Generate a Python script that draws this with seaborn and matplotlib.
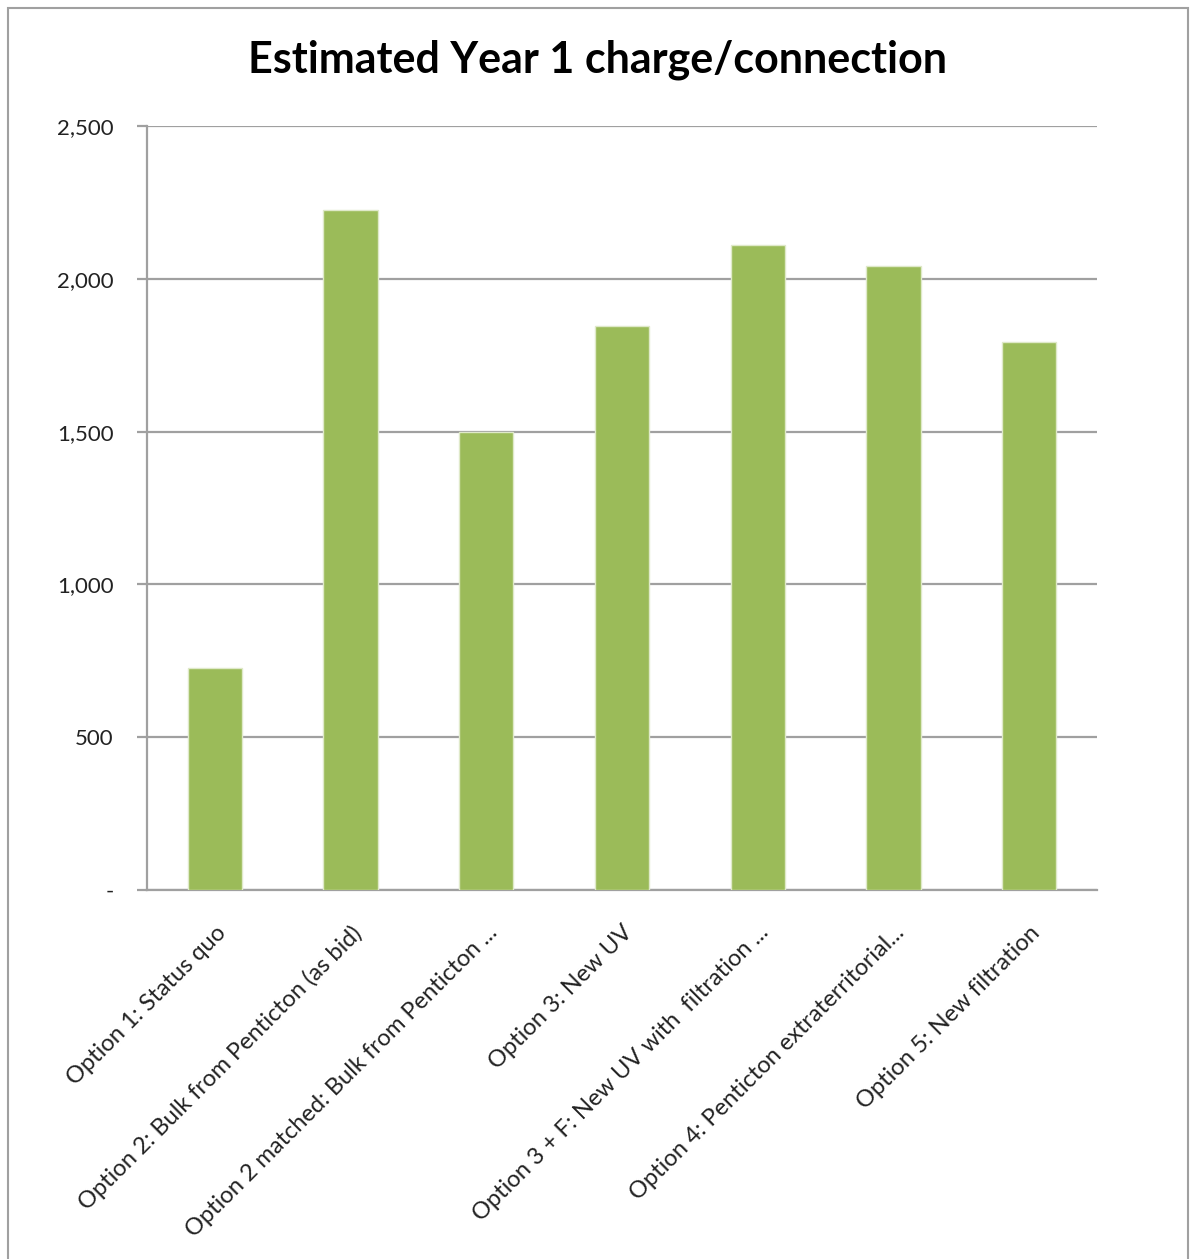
import matplotlib
matplotlib.use("Agg")
import matplotlib.pyplot as plt
from matplotlib.patches import Rectangle
from matplotlib.ticker import FuncFormatter
import seaborn as sns
import pandas as pd

categories = [
    "Option 1: Status quo",
    "Option 2: Bulk from Penticton (as bid)",
    "Option 2 matched: Bulk from Penticton ...",
    "Option 3: New UV",
    "Option 3 + F: New UV with  filtration ...",
    "Option 4: Penticton extraterritorial...",
    "Option 5: New filtration",
]
values = [725, 2225, 1500, 1845, 2110, 2043, 1794]
yticks = [0, 500, 1000, 1500, 2000, 2500]

df = pd.DataFrame({"option": categories, "charge": values})

sns.set_theme(style="white")
plt.rcParams["font.family"] = ["Lato", "DejaVu Sans"]

fig = plt.figure(figsize=(11.94, 12.59), dpi=100)
ax = fig.add_axes([147/1194, 1 - 890/1259, (1097-147)/1194, (890-126)/1259])

sns.barplot(data=df, x="option", y="charge", color="#9BBB59", width=0.4,
            edgecolor="#dfe9c9", linewidth=1.0, saturation=1, ax=ax, zorder=3)

ax.set_ylim(0, 2500)
ax.set_xlim(-0.5, len(categories) - 0.5)
ax.set_yticks(yticks)
ax.yaxis.set_major_formatter(FuncFormatter(lambda v, p: "-" if v == 0 else f"{int(v):,}"))
ax.grid(axis="y", color="#a0a0a0", linewidth=1.6, zorder=0)
ax.set_axisbelow(True)
for s in ["top", "right"]:
    ax.spines[s].set_visible(False)
for s in ["left", "bottom"]:
    ax.spines[s].set_color("#a0a0a0")
    ax.spines[s].set_linewidth(1.6)
ax.tick_params(axis="y", which="major", left=True, length=7, width=1.6, color="#a0a0a0",
               pad=17, labelsize=16, labelcolor="#222222")
ax.tick_params(axis="x", bottom=False, pad=17, labelsize=17, labelcolor="#222222")
ax.set_xlabel("")
ax.set_ylabel("")
for lab in ax.get_xticklabels():
    lab.set_rotation(45)
    lab.set_ha("right")
    lab.set_rotation_mode("anchor")

fig.text(598/1194, 1 - 60/1259, "Estimated Year 1 charge/connection", ha="center", va="center",
         fontsize=31, fontweight="bold", color="black")

fig.patches.append(Rectangle((8/1194, -0.05), (1188-8)/1194, 1.05 - 8/1259,
                             transform=fig.transFigure, fill=False, edgecolor="#a0a0a0",
                             linewidth=1.5))

fig.savefig("out.png", dpi=100)
